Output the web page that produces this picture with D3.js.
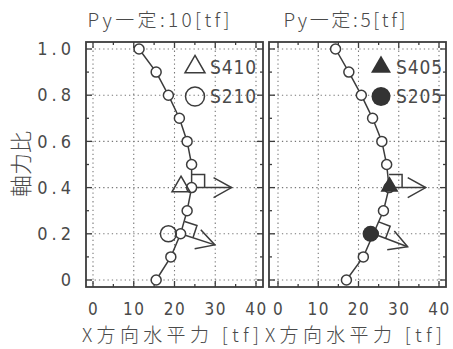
<!DOCTYPE html>
<html>
<head>
<meta charset="utf-8">
<script src="https://cdn.jsdelivr.net/npm/d3@7/dist/d3.min.js"></script>
<style>
  html, body { margin: 0; padding: 0; background: #fff; }
  svg { display: block; }
  text { fill: #4a4a4a; }
</style>
</head>
<body>
<svg id="chart" width="453" height="349"></svg>
<script>
// Axial force ratio levels (vertical axis)
const axialRatio = [1.0, 0.9, 0.8, 0.7, 0.6, 0.5, 0.4, 0.3, 0.2, 0.1, 0.0];

// Interaction curves: X-direction horizontal force [tf] at each axial ratio
const curvePy10 = [11.3, 15.5, 18.5, 21.2, 23.1, 24.2, 24.2, 23.1, 21.5, 19.1, 15.5];
const curvePy5  = [14.3, 17.6, 20.7, 23.5, 25.8, 27.0, 27.6, 26.2, 23.7, 21.2, 17.0];

// Test specimens: [name, axial ratio, horizontal force]
const specimensPy10 = [["S410", 0.4, 21.6], ["S210", 0.2, 18.5]];
const specimensPy5  = [["S405", 0.4, 27.7], ["S205", 0.2, 23.0]];

// Normal-direction arrows: base on the curve -> tip  [x0, y0, x1, y1]
const arrowsPy10 = [[24.2, 0.4, 34.0, 0.4], [21.5, 0.2, 29.9, 0.152]];
const arrowsPy5  = [[27.6, 0.4, 36.7, 0.4], [23.7, 0.2, 32.2, 0.144]];

const xTicks = [0, 10, 20, 30, 40];
const yTicks = [0, 0.2, 0.4, 0.6, 0.8, 1.0];
const yTickLabels = ["0", "0.2", "0.4", "0.6", "0.8", "1.0"];

const titles = ["Py\u4e00\u5b9a:10[tf]", "Py\u4e00\u5b9a:5[tf]"];
const xTitle = "X\u65b9\u5411\u6c34\u5e73\u529b [tf]";
const yTitle = "\u8ef8\u529b\u6bd4";

const ink = "#3c3c3c";
const textInk = "#4a4a4a";
const gridInk = "#777";
const narrow = "'Liberation Sans Narrow', 'DejaVu Sans Condensed', 'Noto Sans', sans-serif";
const cjk = "'Noto Sans CJK JP', 'Noto Sans', sans-serif";

const svg = d3.select("#chart");

const y = d3.scaleLinear().domain([0, 1]).range([280, 49]);

const panels = [
  { frame: [86, 263], range: [93, 256], curve: curvePy10, specs: specimensPy10, arrows: arrowsPy10, filled: false, title: titles[0], legendX: 195 },
  { frame: [269, 446], range: [278, 439], curve: curvePy5, specs: specimensPy5, arrows: arrowsPy5, filled: true, title: titles[1], legendX: 381 }
];

function trianglePath(cx, cy, s) {
  const h = s * Math.sqrt(3) / 2;
  return `M${cx},${cy - h * 2 / 3}L${cx + s / 2},${cy + h / 3}L${cx - s / 2},${cy + h / 3}Z`;
}

panels.forEach((p, pi) => {
  const x = d3.scaleLinear().domain([0, 40]).range(p.range);
  const g = svg.append("g");
  const top = 42, bottom = 287;

  // dotted grid
  g.selectAll(".vg").data(xTicks).join("line")
    .attr("x1", d => x(d)).attr("x2", d => x(d))
    .attr("y1", top).attr("y2", bottom)
    .attr("stroke", gridInk).attr("stroke-width", 1.1)
    .attr("stroke-dasharray", "1.3,3");
  g.selectAll(".hg").data(yTicks).join("line")
    .attr("x1", p.frame[0]).attr("x2", p.frame[1])
    .attr("y1", d => y(d)).attr("y2", d => y(d))
    .attr("stroke", gridInk).attr("stroke-width", 1.1)
    .attr("stroke-dasharray", "1.3,3");

  // inward tick marks on every side of the frame
  const yMinor = d3.range(0, 1.001, 0.1);
  const xMinor = d3.range(0, 40.001, 5);
  yMinor.forEach(v => {
    const major = Math.abs(v * 5 - Math.round(v * 5)) < 1e-6;
    const len = major ? 6 : 3;
    g.append("line").attr("x1", p.frame[0]).attr("x2", p.frame[0] + len)
      .attr("y1", y(v)).attr("y2", y(v)).attr("stroke", ink).attr("stroke-width", 1.3);
    g.append("line").attr("x1", p.frame[1]).attr("x2", p.frame[1] - len)
      .attr("y1", y(v)).attr("y2", y(v)).attr("stroke", ink).attr("stroke-width", 1.3);
  });
  xMinor.forEach(v => {
    const len = v % 10 === 0 ? 6 : 3;
    g.append("line").attr("x1", x(v)).attr("x2", x(v))
      .attr("y1", top).attr("y2", top + len).attr("stroke", ink).attr("stroke-width", 1.3);
    g.append("line").attr("x1", x(v)).attr("x2", x(v))
      .attr("y1", bottom).attr("y2", bottom - len).attr("stroke", ink).attr("stroke-width", 1.3);
  });

  // frame
  g.append("rect").attr("x", p.frame[0]).attr("y", top)
    .attr("width", p.frame[1] - p.frame[0]).attr("height", bottom - top)
    .attr("fill", "none").attr("stroke", ink).attr("stroke-width", 1.8);

  // interaction curve
  const pts = axialRatio.map((r, i) => [p.curve[i], r]);
  g.append("path").datum(pts)
    .attr("d", d3.line().x(d => x(d[0])).y(d => y(d[1])))
    .attr("fill", "none").attr("stroke", ink).attr("stroke-width", 1.5);

  // normal arrows with right-angle marks
  p.arrows.forEach(a => {
    const x0 = x(a[0]), y0 = y(a[1]), x1 = x(a[2]), y1 = y(a[3]);
    const L = Math.hypot(x1 - x0, y1 - y0);
    const ux = (x1 - x0) / L, uy = (y1 - y0) / L;
    const nx = uy, ny = -ux; // perpendicular, toward the upper side
    const s = 13;
    g.append("path")
      .attr("d", `M${x0 + ux * s},${y0 + uy * s}L${x0 + ux * s + nx * s},${y0 + uy * s + ny * s}L${x0 + nx * s},${y0 + ny * s}`)
      .attr("fill", "none").attr("stroke", ink).attr("stroke-width", 1.5);
    g.append("line").attr("x1", x0).attr("y1", y0).attr("x2", x1).attr("y2", y1)
      .attr("stroke", ink).attr("stroke-width", 1.5);
    const hl = 18, hw = 10;
    g.append("path")
      .attr("d", `M${x1 - ux * hl + nx * hw},${y1 - uy * hl + ny * hw}L${x1},${y1}L${x1 - ux * hl - nx * hw},${y1 - uy * hl - ny * hw}`)
      .attr("fill", "none").attr("stroke", ink).attr("stroke-width", 1.5);
  });

  // curve points
  g.selectAll(".pt").data(pts).join("circle")
    .attr("cx", d => x(d[0])).attr("cy", d => y(d[1])).attr("r", 5)
    .attr("fill", "#fff").attr("stroke", ink).attr("stroke-width", 1.5);

  // specimen markers
  const fill = p.filled ? "#333" : "none";
  const spec = p.specs;
  g.append("path").attr("d", trianglePath(x(spec[0][2]), y(spec[0][1]) - 1, 18))
    .attr("fill", fill).attr("stroke", p.filled ? "none" : ink).attr("stroke-width", 1.5);
  g.append("circle").attr("cx", x(spec[1][2])).attr("cy", y(spec[1][1])).attr("r", 8)
    .attr("fill", fill).attr("stroke", p.filled ? "none" : ink).attr("stroke-width", 1.5);

  // legend
  g.append("path").attr("d", trianglePath(p.legendX, 67, 20))
    .attr("fill", fill).attr("stroke", p.filled ? "none" : ink).attr("stroke-width", 1.5);
  g.append("circle").attr("cx", p.legendX).attr("cy", 96.5).attr("r", 9.5)
    .attr("fill", fill).attr("stroke", p.filled ? "none" : ink).attr("stroke-width", 1.5);
  [spec[0][0], spec[1][0]].forEach((name, i) => {
    g.append("text").attr("x", p.legendX + 15).attr("y", 74 + i * 29)
      .attr("font-family", narrow).attr("font-size", 19)
      .attr("textLength", 46).attr("lengthAdjust", "spacing")
      .text(name);
  });

  // x axis tick labels
  const xAxis = d3.axisBottom(x).tickValues(xTicks).tickSize(0).tickPadding(0);
  const ax = svg.append("g").attr("transform", "translate(0,302)").call(xAxis);
  ax.select(".domain").remove();
  ax.selectAll("text").attr("font-family", narrow).attr("font-size", 17)
    .attr("fill", textInk).attr("letter-spacing", 1.5).attr("dy", "0.78em");

  // x axis title
  svg.append("text").attr("x", p.frame[0] - 4).attr("y", 342)
    .attr("font-family", cjk).attr("font-size", 19).attr("font-weight", 300)
    .attr("textLength", 177).attr("lengthAdjust", "spacing")
    .text(xTitle);

  // panel title
  const cx = (p.frame[0] + p.frame[1]) / 2 - 16 + (pi === 1 ? 3 : 0);
  svg.append("text").attr("x", cx).attr("y", 27)
    .attr("text-anchor", "middle")
    .attr("font-family", cjk).attr("font-size", 19).attr("font-weight", 300)
    .attr("textLength", pi === 0 ? 142 : 122).attr("lengthAdjust", "spacing")
    .text(p.title);
});

// y axis tick labels
const yAxis = d3.axisLeft(y).tickValues(yTicks).tickSize(0).tickPadding(0)
  .tickFormat((d, i) => yTickLabels[i]);
const ay = svg.append("g").attr("transform", "translate(71,0)").call(yAxis);
ay.select(".domain").remove();
ay.selectAll("text").attr("font-family", narrow).attr("font-size", 18)
  .attr("fill", textInk).attr("letter-spacing", 4).attr("dx", 4);

// y axis title
svg.append("text").attr("transform", "translate(29,164) rotate(-90)")
  .attr("text-anchor", "middle")
  .attr("font-family", cjk).attr("font-size", 22).attr("font-weight", 300)
  .text(yTitle);
</script>
</body>
</html>
